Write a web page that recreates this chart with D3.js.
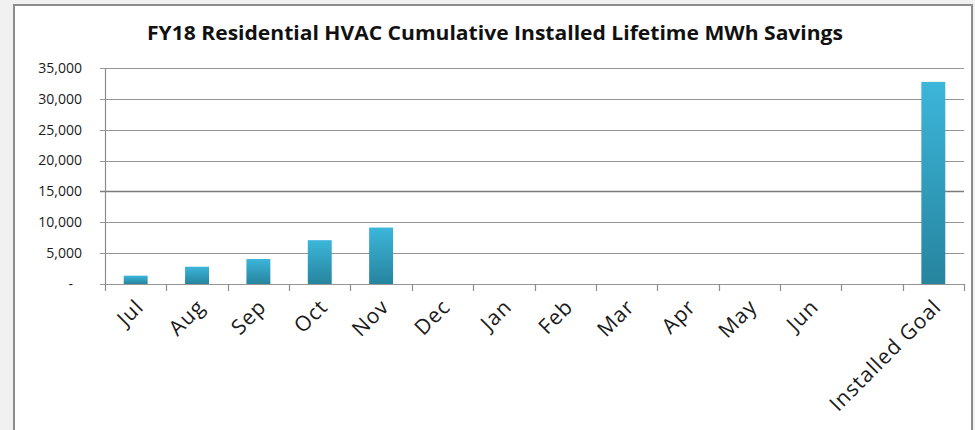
<!DOCTYPE html>
<html>
<head>
<meta charset="utf-8">
<script src="https://cdnjs.cloudflare.com/ajax/libs/d3/7.8.5/d3.min.js"></script>
<style>
  body { margin: 0; background: #f1f1f1; }
  svg { display: block; }
</style>
</head>
<body>
<svg width="975" height="430"></svg>
<script>
// data
var months = ["Jul", "Aug", "Sep", "Oct", "Nov", "Dec", "Jan", "Feb", "Mar", "Apr", "May", "Jun", "", "Installed Goal"];
var savings = [1350, 2800, 4050, 7100, 9150, null, null, null, null, null, null, null, null, 32750];
var yTicks = [0, 5000, 10000, 15000, 20000, 25000, 30000, 35000];
var title = "FY18 Residential HVAC Cumulative Installed Lifetime MWh Savings";

var svg = d3.select("svg"),
    width = 975,
    height = 430;

var margin = {top: 68, right: 16, bottom: 146, left: 105};

// chart frame
svg.append("rect")
    .attr("x", 14).attr("y", 5)
    .attr("width", 958).attr("height", 440)
    .attr("fill", "#fff")
    .attr("stroke", "#8c8c8c")
    .attr("stroke-width", 2);

var defs = svg.append("defs");
var grad = defs.append("linearGradient")
    .attr("id", "barGrad")
    .attr("x1", 0).attr("y1", 0).attr("x2", 0).attr("y2", 1);
grad.append("stop").attr("offset", "0%").attr("stop-color", "#3cb6da");
grad.append("stop").attr("offset", "100%").attr("stop-color", "#26849e");

var x = d3.scaleBand()
    .domain(d3.range(months.length))
    .range([margin.left, width - margin.right + 5])
    .padding(0);

var y = d3.scaleLinear()
    .domain([0, 35000])
    .range([height - margin.bottom, margin.top]);

var fmt = d3.format(",");

// gridlines
svg.append("g").selectAll("line")
    .data(yTicks)
    .enter().append("line")
    .attr("x1", margin.left - 5)
    .attr("x2", x.range()[1])
    .attr("y1", function(d) { return Math.round(y(d)) + 0.5; })
    .attr("y2", function(d) { return Math.round(y(d)) + 0.5; })
    .attr("stroke", function(d) { return d === 15000 ? "#7a7a7a" : "#969696"; })
    .attr("stroke-width", function(d) { return d === 15000 ? 1.6 : 1.1; });

// y labels
svg.append("g").selectAll("text")
    .data(yTicks)
    .enter().append("text")
    .attr("x", function(d) { return d === 0 ? 73 : 82; })
    .attr("y", function(d) { return y(d); })
    .attr("dy", "0.35em")
    .attr("text-anchor", "end")
    .style("font-family", "'Open Sans', sans-serif")
    .style("font-size", "14px")
    .attr("fill", "#1a1a1a")
    .text(function(d) { return d === 0 ? "-" : fmt(d); });

// y axis line
svg.append("line")
    .attr("x1", margin.left + 0.5).attr("x2", margin.left + 0.5)
    .attr("y1", y(35000)).attr("y2", y(0))
    .attr("stroke", "#8c8c8c").attr("stroke-width", 1.2);

// category ticks
var bounds = d3.range(months.length + 1).map(function(i) {
  return i < months.length ? x(i) : x.range()[1];
});
svg.append("g").selectAll("line")
    .data(bounds)
    .enter().append("line")
    .attr("x1", function(d) { return Math.round(d) + 0.5; })
    .attr("x2", function(d) { return Math.round(d) + 0.5; })
    .attr("y1", y(0))
    .attr("y2", y(0) + 7)
    .attr("stroke", "#8c8c8c").attr("stroke-width", 1.2);

// bars
var barW = x.bandwidth() * 0.39;
svg.append("g").selectAll("rect")
    .data(savings.map(function(v, i) { return {i: i, v: v}; }).filter(function(d) { return d.v; }))
    .enter().append("rect")
    .attr("x", function(d) { return x(d.i) + (x.bandwidth() - barW) / 2; })
    .attr("y", function(d) { return y(d.v); })
    .attr("width", barW)
    .attr("height", function(d) { return y(0) - y(d.v); })
    .attr("fill", "url(#barGrad)");

// category labels
svg.append("g").selectAll("text")
    .data(months)
    .enter().append("text")
    .attr("transform", function(d, i) {
      return "translate(" + (x(i) + x.bandwidth() / 2 + 4) + "," + (y(0) + 19) + ") rotate(-45)";
    })
    .attr("text-anchor", "end")
    .attr("dy", "0.35em")
    .style("font-family", "'Open Sans', sans-serif")
    .style("font-size", "21px")
    .style("letter-spacing", "1px")
    .attr("fill", "#1a1a1a")
    .text(function(d) { return d; });

// title
svg.append("text")
    .attr("x", 495)
    .attr("y", 40)
    .attr("text-anchor", "middle")
    .attr("textLength", 696)
    .attr("lengthAdjust", "spacingAndGlyphs")
    .style("font-family", "'Open Sans', sans-serif")
    .style("font-weight", "bold")
    .style("font-size", "19px")
    .attr("fill", "#111")
    .text(title);
</script>
</body>
</html>
